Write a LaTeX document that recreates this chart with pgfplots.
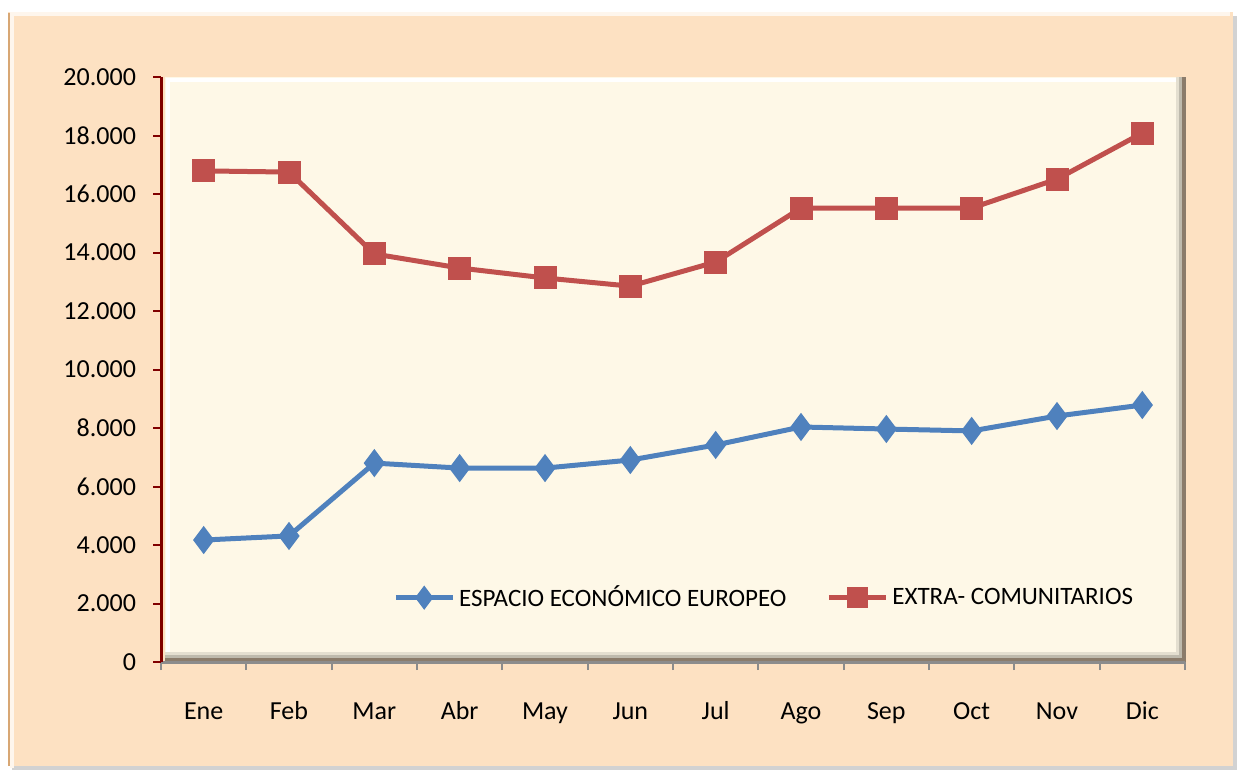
\documentclass[border=0pt]{standalone}
\usepackage{fontspec}
\setmainfont{Carlito}
\usepackage{pgfplots}
\pgfplotsset{compat=1.18}

\definecolor{peach}{HTML}{FDE1C2}
\definecolor{cream}{HTML}{FEF8E7}
\definecolor{redline}{HTML}{C0504D}
\definecolor{blueline}{HTML}{4F81BD}
\definecolor{axred}{HTML}{800000}
\definecolor{axgray}{HTML}{8C8C8C}

\begin{document}
\begin{tikzpicture}
% 1 px of the reference = 0.5pt, y measured downwards
\path[use as bounding box] (0pt,0pt) rectangle (619.5pt,-386pt);
% outer frame
\fill[black!35,opacity=0.5] (6pt,-8pt) rectangle (618.5pt,-385pt);
\fill[peach] (4pt,-6pt) rectangle (616.5pt,-383pt);
\draw[white!70!peach,line width=2pt] (6pt,-384pt) -- (6pt,-7pt) -- (615pt,-7pt);
\draw[brown!60!peach,line width=1pt] (4.5pt,-383pt) -- (4.5pt,-6.5pt);
% plot area with shadow
\fill[black!45!peach] (82.5pt,-38.5pt) rectangle (593pt,-331pt);
\fill[black!25!cream] (82.5pt,-38.5pt) rectangle (591pt,-329pt);
\fill[black!10!cream] (82.5pt,-38.5pt) rectangle (589.5pt,-327.5pt);
\fill[cream] (82.5pt,-38.5pt) rectangle (588pt,-326pt);
\draw[white,line width=2pt] (84pt,-326pt) -- (84pt,-40pt) -- (588pt,-40pt);

\begin{axis}[
    at={(80.5pt,-331pt)},
    anchor=south west,
    scale only axis,
    width=512pt,
    height=292.5pt,
    xmin=-0.5, xmax=11.5,
    ymin=0, ymax=20000,
    axis x line*=bottom,
    axis y line*=left,
    x axis line style={draw=axgray,line width=1.5pt,-},
    y axis line style={draw=axred,line width=1.5pt,-},
    tick align=outside,
    xtick={0,...,11},
    xticklabels={Ene,Feb,Mar,Abr,May,Jun,Jul,Ago,Sep,Oct,Nov,Dic},
    major x tick style={draw=none},
    minor xtick={-0.5,0.5,...,11.5},
    minor x tick style={draw=axgray,line width=1pt},
    minor tick length=4pt,
    ytick={0,2000,...,20000},
    ytick style={draw=axred,line width=1pt},
    major tick length=4pt,
    scaled y ticks=false,
    /pgf/number format/.cd,1000 sep={.},assume math mode=true,
    /pgfplots/.cd,
    ticklabel style={font=\fontsize{13}{15}\selectfont},
    xticklabel style={anchor=base,yshift=-24.5pt},
    yticklabel style={xshift=-5pt},
    legend columns=2,
    legend style={at={(0.59,0.11)},anchor=center,draw=none,fill=none,
        font=\fontsize{12.5}{14}\selectfont,
        /tikz/every even column/.append style={column sep=18pt}},
    legend image code/.code={
        \draw[mark repeat=2,mark phase=2,mark size=4pt] plot coordinates {(0cm,0cm) (0.5cm,0cm) (1.0cm,0cm)};},
]
\addplot[blueline,line width=2.5pt,mark=diamond*,mark size=5pt,mark options={solid}]
coordinates {(0,4170) (1,4310) (2,6800) (3,6630) (4,6630) (5,6905)
             (6,7420) (7,8035) (8,7965) (9,7900) (10,8410) (11,8785)};
\addlegendentry{ESPACIO ECONÓMICO EUROPEO}
\addplot[redline,line width=2.5pt,mark=square*,mark size=4.5pt,mark options={solid}]
coordinates {(0,16790) (1,16750) (2,13950) (3,13470) (4,13130) (5,12850)
             (6,13675) (7,15520) (8,15520) (9,15520) (10,16510) (11,18085)};
\addlegendentry{EXTRA- COMUNITARIOS}
\end{axis}
\end{tikzpicture}
\end{document}
